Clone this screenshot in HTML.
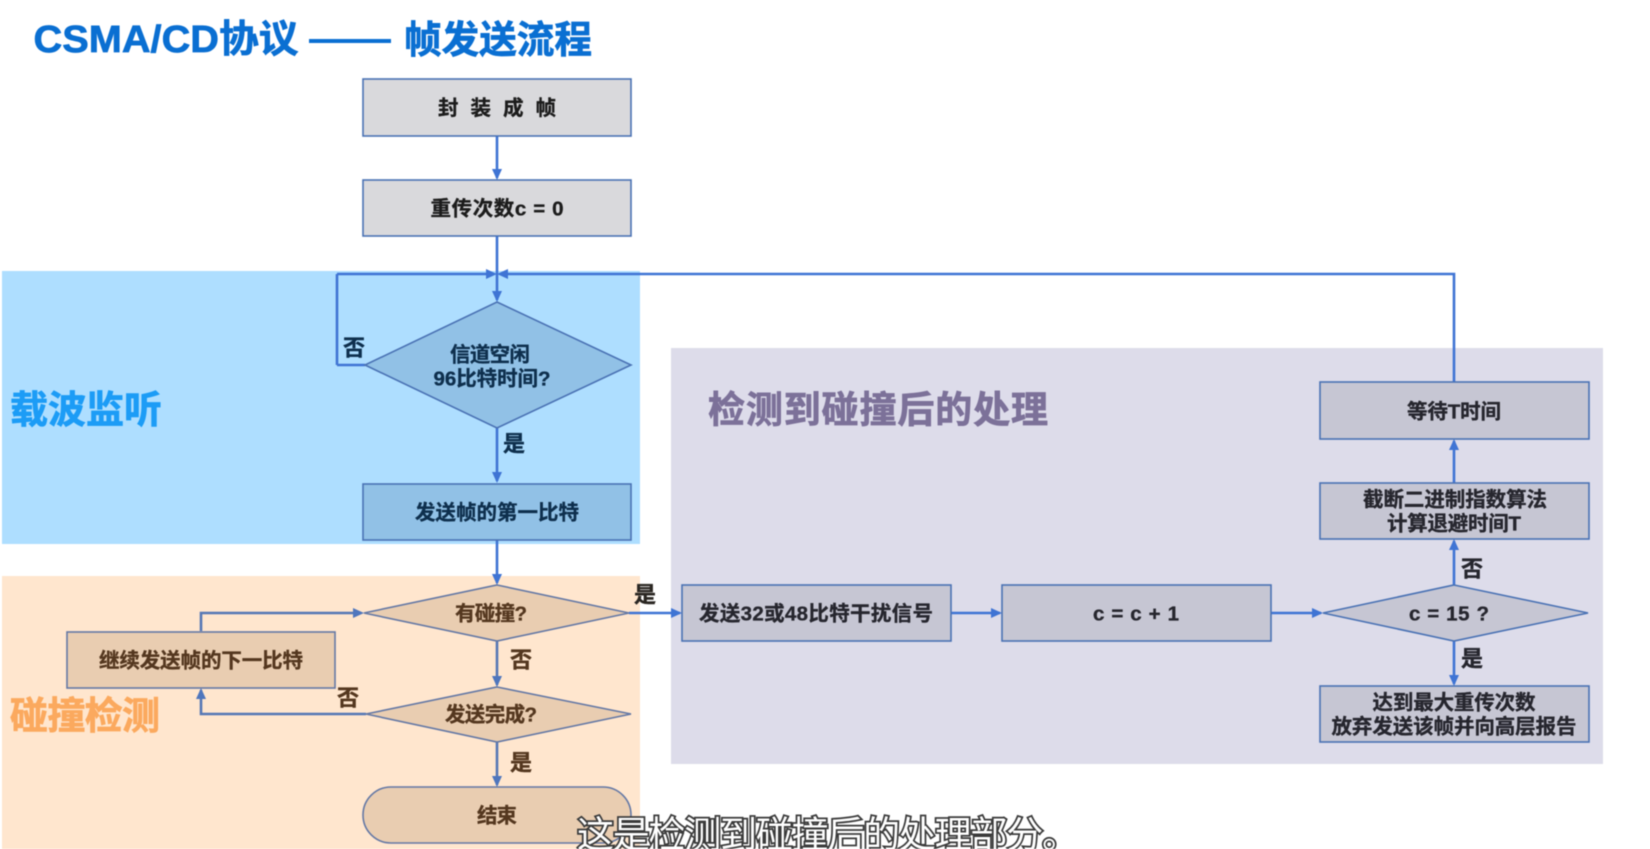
<!DOCTYPE html>
<html><head><meta charset="utf-8"><style>
html,body{margin:0;padding:0;background:#fff;width:1650px;height:849px;overflow:hidden}
svg{display:block;filter:blur(.5px)}
text{font-family:"Liberation Sans","Noto Sans CJK SC",sans-serif;font-weight:700;text-anchor:middle;dominant-baseline:central}
.n{font-size:20.5px;fill:#1c1c1c;stroke:#1c1c1c;stroke-width:.35px}
.l{font-size:22px;fill:#1c1c1c;stroke:#1c1c1c;stroke-width:.4px}
.b{fill:#0e2f4d;stroke:#0e2f4d}.o{fill:#54371f;stroke:#54371f}.g{fill:#26262e;stroke:#26262e}
.ln{fill:none;stroke:#3f74d4;stroke-width:2.6}
.lo{fill:none;stroke:#5577b5;stroke-width:2.6}
.bx{stroke:#4a72b4;stroke-width:1.6}
.h{stroke-width:.7px}
</style></head><body>
<svg width="1650" height="849" viewBox="0 0 1650 849" xmlns="http://www.w3.org/2000/svg">
<rect width="1650" height="849" fill="#fff"/>
<rect x="2" y="271" width="638" height="273" fill="#aedeff"/>
<rect x="2" y="576" width="638" height="273" fill="#ffe6ce"/>
<rect x="671" y="348" width="932" height="416" fill="#dddcea"/>

<!-- title -->
<text class="h" x="166" y="40" style="font-size:38px;fill:#0a6fd2;stroke:#0a6fd2" textLength="265" lengthAdjust="spacingAndGlyphs">CSMA/CD协议</text>
<rect x="309" y="39" width="82" height="4" fill="#0a6fd2"/>
<text class="h" x="498" y="41" style="font-size:38px;fill:#0a6fd2;stroke:#0a6fd2" textLength="188" lengthAdjust="spacingAndGlyphs">帧发送流程</text>

<text class="h" x="86" y="411" style="font-size:38px;fill:#1c9cf6;stroke:#1c9cf6" textLength="152">载波监听</text>
<text class="h" x="85" y="717" style="font-size:38px;fill:#fba95e;stroke:#fba95e" textLength="150">碰撞检测</text>
<text class="h" x="878" y="410" style="font-size:37px;fill:#7c7199;stroke:#7c7199" textLength="340">检测到碰撞后的处理</text>

<!-- connectors -->
<path class="ln" d="M497 136V178M497 236V300M337 274H490M337 365V274M365 365H337M1454 382V274H504M497 428V481M497 540V583"/>
<path class="ln" d="M629 613H680M951 613H1000M1271 613H1321M1454 585V541M1454 483V441M1454 641V684"/>
<path class="lo" d="M497 641V685M497 742V785M201 631V613H358M366 714H201V690"/>
<g fill="#3f74d4">
<path d="M497 180l-5-11h10zM497 302l-5-11h10zM497 483l-5-11h10zM497 585l-5-11h10zM497 274l-11-5v10zM497 274l11-5v10z"/>
<path d="M682 613l-11-5v10zM1002 613l-11-5v10zM1323 613l-11-5v10zM1454 539l-5 11h10zM1454 439l-5 11h10zM1454 686l-5-11h10z"/>
<path d="M364 613l-11-5v10zM497 687l-5-11h10zM497 787l-5-11h10zM201 688l-5 11h10z" fill="#4f76bd"/>
</g>

<!-- top nodes -->
<rect class="bx" x="363" y="79" width="268" height="57" fill="#d9d9dc"/>
<text class="n" x="497" y="108.500" xml:space="preserve" textLength="118">封 装 成 帧</text>
<rect class="bx" x="363" y="180" width="268" height="56" fill="#d9d9dc"/>
<text class="n" x="497" y="209" textLength="133">重传次数c = 0</text>

<!-- blue -->
<polygon class="bx" points="497,302 631,365 497,428 365,365" fill="#91c1e6" stroke="#3a74b4"/>
<text class="n b" x="490" y="355" textLength="80">信道空闲</text>
<text class="n b" x="492" y="379" textLength="117">96比特时间?</text>
<rect class="bx" x="363" y="484" width="268" height="56" fill="#91c1e6" stroke="#2f78c4"/>
<text class="n b" x="497" y="513" textLength="164">发送帧的第一比特</text>

<!-- orange -->
<polygon points="497,585 629,613 497,641 364,613" fill="#e9cdb1" stroke="#6478a5" stroke-width="1.6"/>
<text class="n o" x="491" y="614" textLength="72">有碰撞?</text>
<rect x="67" y="632" width="268" height="56" fill="#e9cdb1" stroke="#6478a5" stroke-width="1.6"/>
<text class="n o" x="201" y="661" textLength="204">继续发送帧的下一比特</text>
<polygon points="497,687 631,714 497,742 366,714" fill="#e9cdb1" stroke="#6478a5" stroke-width="1.6"/>
<text class="n o" x="491" y="715" textLength="92">发送完成?</text>
<rect x="363" y="787" width="268" height="56" rx="28" fill="#e9cdb1" stroke="#6478a5" stroke-width="1.6"/>
<text class="n o" x="497" y="816" textLength="40">结束</text>

<!-- gray -->
<rect class="bx" x="682" y="585" width="269" height="56" fill="#c6c6d3"/>
<text class="n g" x="816" y="614" textLength="234">发送32或48比特干扰信号</text>
<rect class="bx" x="1002" y="585" width="269" height="56" fill="#c6c6d3"/>
<text class="n g" x="1136" y="614" xml:space="preserve" textLength="86">c = c + 1</text>
<polygon class="bx" points="1454,585 1588,613 1454,641 1323,613" fill="#c6c6d3"/>
<text class="n g" x="1449" y="614" xml:space="preserve" textLength="80">c = 15 ?</text>
<rect class="bx" x="1320" y="483" width="269" height="56" fill="#c6c6d3"/>
<text class="n g" x="1455" y="500" textLength="184">截断二进制指数算法</text>
<text class="n g" x="1454" y="524" textLength="134">计算退避时间T</text>
<rect class="bx" x="1320" y="382" width="269" height="57" fill="#c6c6d3"/>
<text class="n g" x="1454" y="412" textLength="94">等待T时间</text>
<rect class="bx" x="1320" y="686" width="269" height="56" fill="#c6c6d3"/>
<text class="n g" x="1454" y="703" textLength="163">达到最大重传次数</text>
<text class="n g" x="1454" y="727" textLength="245">放弃发送该帧并向高层报告</text>

<!-- edge labels -->
<text class="l b" x="354" y="348">否</text>
<text class="l b" x="514" y="444">是</text>
<text class="l o" x="645" y="595" style="fill:#2a2622;stroke:#2a2622">是</text>
<text class="l o" x="521" y="660">否</text>
<text class="l o" x="348" y="698">否</text>
<text class="l o" x="521" y="763">是</text>
<text class="l g" x="1472" y="569">否</text>
<text class="l g" x="1472" y="659">是</text>

<!-- subtitle -->
<text x="828" y="835" style="font-size:37px;font-weight:400;fill:#fff;stroke:#3a3a3a;stroke-width:3.5px;paint-order:stroke" textLength="502">这是检测到碰撞后的处理部分。</text>
</svg>
</body></html>
